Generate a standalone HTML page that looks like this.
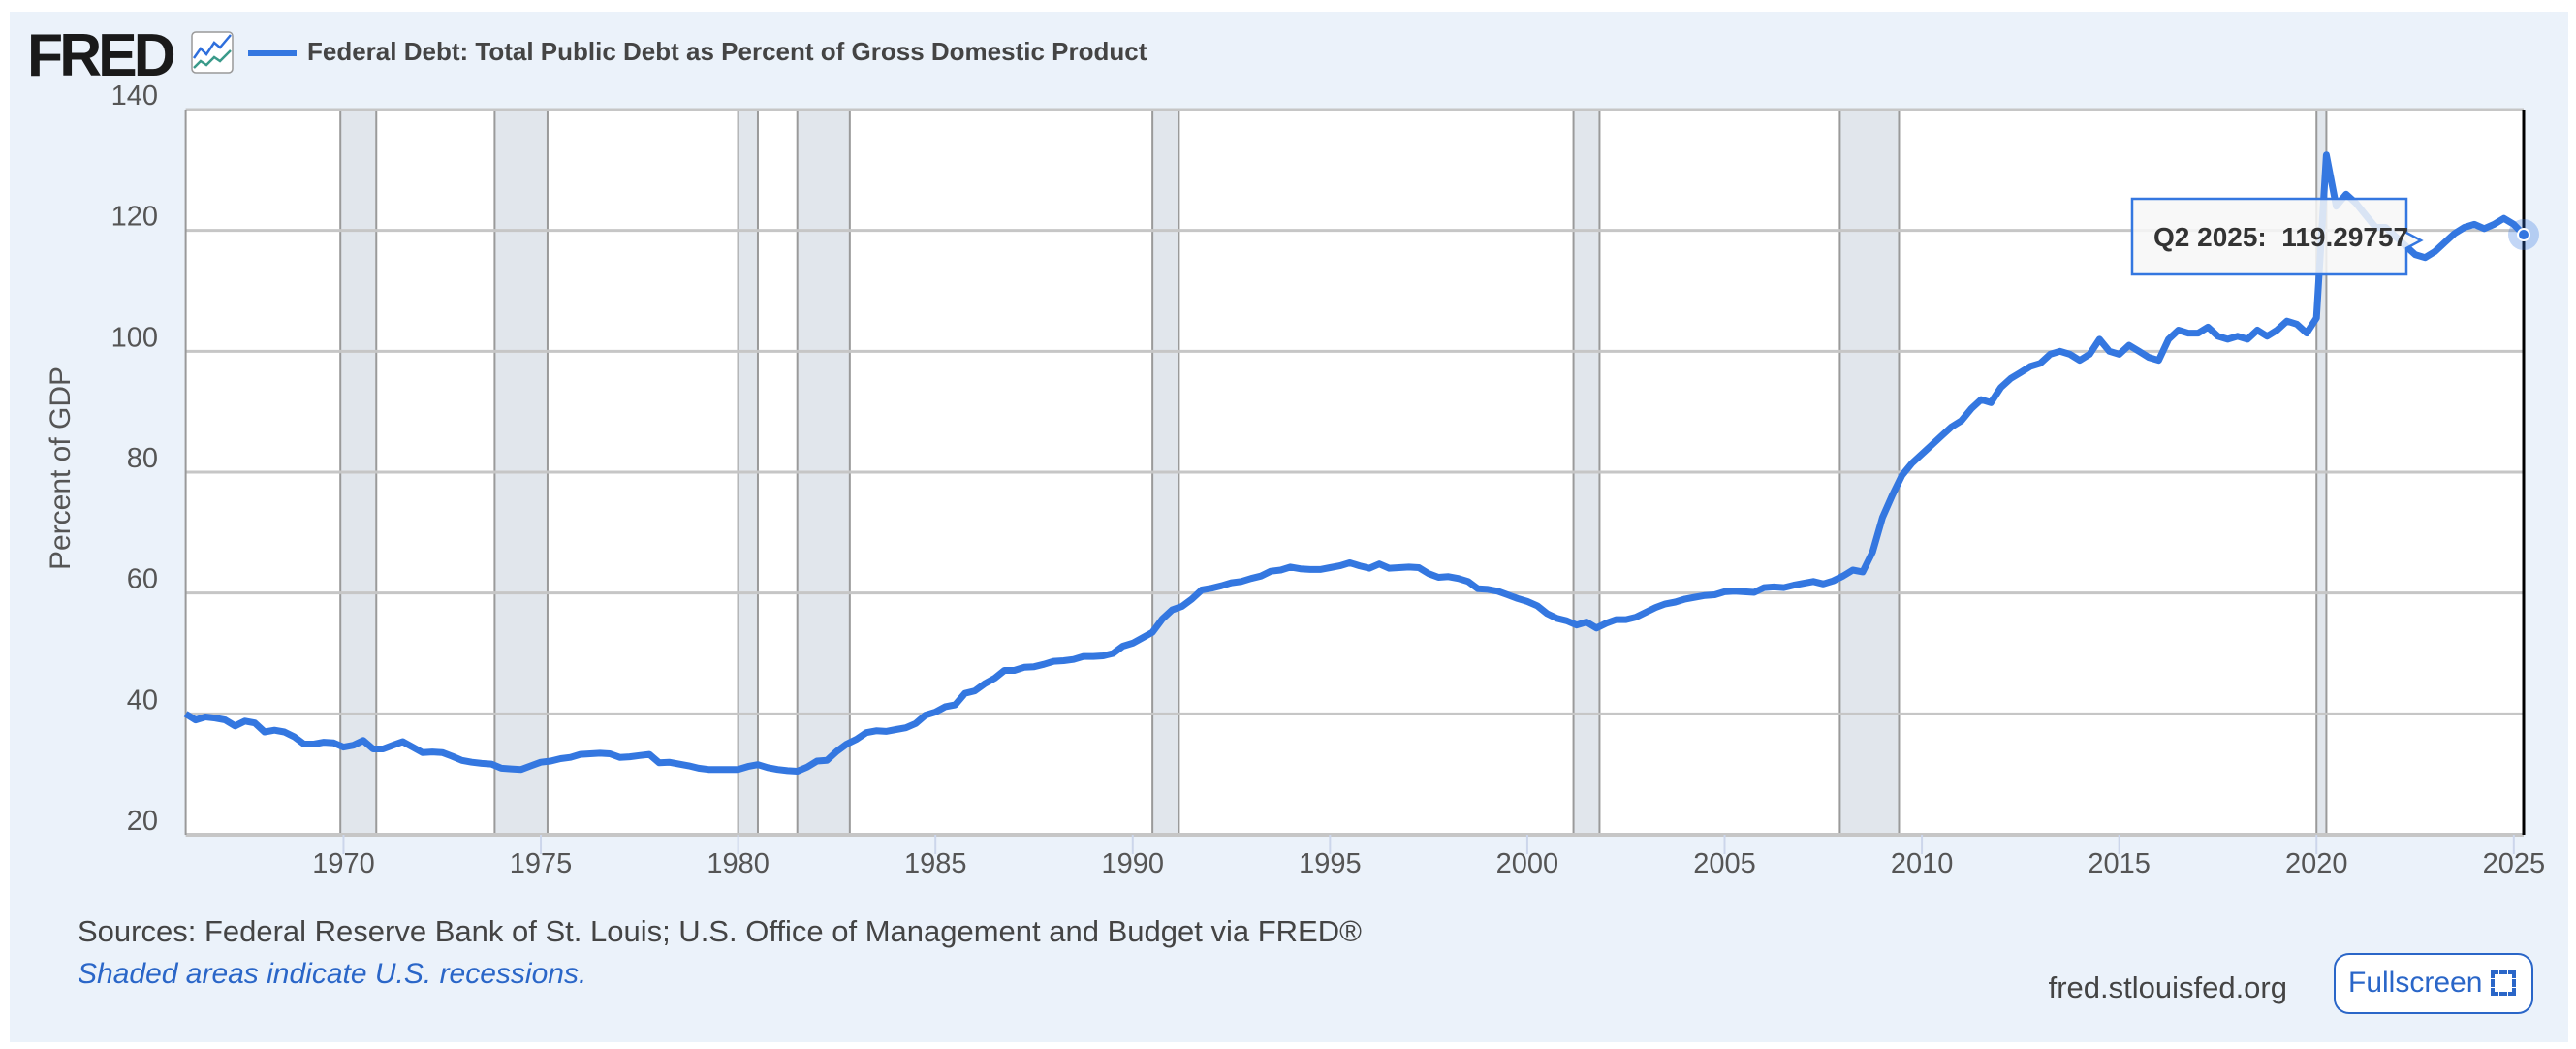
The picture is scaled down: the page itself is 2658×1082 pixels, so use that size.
<!DOCTYPE html>
<html><head><meta charset="utf-8">
<style>
html,body{margin:0;padding:0;background:#fff;width:2658px;height:1082px;overflow:hidden;font-family:"Liberation Sans",sans-serif;}
#panel{position:absolute;left:10px;top:12px;width:2640px;height:1063px;background:#ebf2fa;}
.abs{position:absolute;}
</style></head><body>
<div id="panel"></div>
<div class="abs" style="left:28px;top:22px;font-size:62px;font-weight:bold;color:#1a1a1a;letter-spacing:-4px;font-family:'Liberation Sans',sans-serif;transform:scaleX(0.98);transform-origin:left;">FRED</div>
<svg class="abs" style="left:197px;top:32px" width="44" height="44" viewBox="0 0 44 44">
<rect x="1" y="1" width="42" height="42" rx="4" fill="#fff" stroke="#999" stroke-width="1.5"/>
<polyline points="3,28 10,18 16,24 24,12 30,17 41,4" fill="none" stroke="#2f6fdc" stroke-width="2.5"/>
<polyline points="3,38 10,31 16,35 24,27 30,31 41,20" fill="none" stroke="#3a9a8a" stroke-width="2.5"/>
</svg>
<div class="abs" style="left:256px;top:52px;width:50px;height:6px;background:#3477e0"></div>
<div class="abs" style="left:317px;top:38px;font-size:26px;font-weight:bold;color:#444;">Federal Debt: Total Public Debt as Percent of Gross Domestic Product</div>

<svg class="abs" id="chart" style="left:0;top:0" width="2658" height="1082"></svg>

<div class="abs" style="left:80px;top:943px;font-size:31px;color:#444">Sources: Federal Reserve Bank of St. Louis; U.S. Office of Management and Budget via FRED®</div>
<div class="abs" style="left:80px;top:988px;font-size:30px;color:#2a66c8;font-style:italic">Shaded areas indicate U.S. recessions.</div>
<div class="abs" style="right:298px;top:1001px;font-size:31px;color:#444">fred.stlouisfed.org</div>
<div class="abs" style="left:2408px;top:983px;width:206px;height:63px;border:2.5px solid #2a66c8;border-radius:16px;background:#fff;box-sizing:border-box;color:#2a66c8;font-size:30px;line-height:58px;padding-left:13px;">Fullscreen <span style="display:inline-block;width:26px;height:26px;vertical-align:-4px;border:4px dashed #2a66c8;box-sizing:border-box"></span></div>

<script>
const yTicks=[20,40,60,80,100,120,140];
const xTicks=[1970,1975,1980,1985,1990,1995,2000,2005,2010,2015,2020,2025];
const recStart=[1969.92,1973.83,1980.0,1981.5,1990.5,2001.17,2007.92,2020.0];
const recEnd=[1970.83,1975.17,1980.5,1982.83,1991.17,2001.83,2009.42,2020.25];
const startYear=1966;
const debtPct=[
40,39,39.5,39.3, 39,38,38.8,38.5, 37,37.3,37,36.2, 35,35,35.3,35.2,
34.5,34.8,35.6,34.2, 34.2,34.8,35.4,34.5, 33.6,33.7,33.6,33, 32.3,32,31.8,31.7,
31,30.9,30.8,31.4, 32,32.2,32.6,32.8, 33.3,33.4,33.5,33.4, 32.8,32.9,33.1,33.3,
31.9,32,31.7,31.4, 31,30.8,30.8,30.8, 30.8,31.3,31.6,31.1, 30.8,30.6,30.5,31.2,
32.2,32.3,33.8,35, 35.8,36.9,37.2,37.1, 37.4,37.7,38.4,39.8, 40.3,41.2,41.5,43.4,
43.8,45,45.9,47.2, 47.2,47.7,47.8,48.2, 48.7,48.8,49,49.5, 49.5,49.6,50,51.2,
51.7,52.6,53.5,55.7, 57.2,57.8,59,60.5, 60.8,61.2,61.7,61.9, 62.4,62.8,63.6,63.8,
64.3,64,63.9,63.9, 64.2,64.5,65,64.5, 64.1,64.8,64.1,64.2, 64.3,64.2,63.2,62.6,
62.7,62.4,61.9,60.7, 60.6,60.3,59.7,59.1, 58.6,57.9,56.6,55.8, 55.4,54.7,55.2,54.2,
55,55.6,55.6,56, 56.8,57.6,58.2,58.5, 59,59.3,59.6,59.7, 60.2,60.3,60.2,60.1,
60.9,61,60.9,61.3, 61.6,61.9,61.5,62, 62.8,63.8,63.5,66.8, 72.5,76.2,79.5,81.5,
83,84.5,86,87.5, 88.5,90.5,92,91.5, 94,95.5,96.5,97.5, 98,99.5,100,99.5,
98.5,99.5,102,100, 99.5,101,100,99, 98.5,102,103.5,103, 103,104,102.5,102,
102.5,102,103.5,102.5, 103.5,105,104.5,103, 105.5,132.5,124,126,
124.5,122.5,120.5,120.5, 119,117.5,116,115.5, 116.5,118,119.5,120.5,
121,120.3,121,122, 121,119.29757];
const tooltipLabel="Q2 2025:";
const tooltipValue="119.29757";

const L=191.6,R=2604,T=113,B=861,X0=1966.0,X1=2025.25,Y0=20,Y1=140;
const sx=v=>L+(v-X0)/(X1-X0)*(R-L);
const sy=v=>B-(v-Y0)/(Y1-Y0)*(B-T);
const svg=document.getElementById('chart');
const NS='http://www.w3.org/2000/svg';
function mk(tag,attrs){const e=document.createElementNS(NS,tag);for(const k in attrs)e.setAttribute(k,attrs[k]);svg.appendChild(e);return e;}

let e=mk('rect',{x:L,y:T,width:R-L,height:B-T,fill:'#fff'});



recStart.forEach((s,i)=>{
  const r=mk('rect',{x:sx(s),y:T,width:sx(recEnd[i])-sx(s),height:B-T,fill:'#e1e6ec'});
  
  
  [s,recEnd[i]].forEach(v=>{const l=mk('line',{x1:sx(v),x2:sx(v),y1:T,y2:B,stroke:'#9a9a9a','stroke-width':2});
    
    });
});

yTicks.forEach(v=>{
  const g=mk('line',{x1:L,x2:R,y1:sy(v),y2:sy(v),stroke:'#c6c6c6','stroke-width':v===20?4:3});
  
  
  const t=mk('text',{x:163,y:sy(v)-5,'text-anchor':'end','font-size':29,fill:'#555','font-family':'Liberation Sans, sans-serif'});
  t.textContent=v;
  
  
});
xTicks.forEach(v=>{
  const l=mk('line',{x1:sx(v),x2:sx(v),y1:B,y2:B+20,stroke:'#ccd6eb','stroke-width':2});
  
  
  const t=mk('text',{x:sx(v),y:900,'text-anchor':'middle','font-size':29,fill:'#555','font-family':'Liberation Sans, sans-serif'});
  t.textContent=v;
  
  
});
let ax=mk('line',{x1:L,x2:L,y1:T,y2:B,stroke:'#999','stroke-width':2});


let rb=mk('line',{x1:R,x2:R,y1:T,y2:B,stroke:'#000','stroke-width':3});



const yt=mk('text',{x:0,y:0,'text-anchor':'middle','font-size':30,fill:'#555','font-family':'Liberation Sans, sans-serif',transform:'translate(72,483) rotate(-90)'});
yt.textContent='Percent of GDP';



const pts=debtPct.map((v,i)=>sx(startYear+i/4).toFixed(1)+','+sy(v).toFixed(1)).join(' ');
const pl=mk('polyline',{points:pts,fill:'none',stroke:'#3477e0','stroke-width':7,'stroke-linejoin':'round'});



const li=debtPct.length-1;
const hx=sx(startYear+li/4),hy=sy(debtPct[li]);
const halo=mk('circle',{cx:hx,cy:hy,r:16,fill:'#3477e0','fill-opacity':0.3});


const dot=mk('circle',{cx:hx,cy:hy,r:6,fill:'#3477e0',stroke:'#fff','stroke-width':2});



const tb=mk('path',{d:'M2200,205 H2483 V240 L2498,248 L2483,256 V283 H2200 Z',fill:'#f7f7f7','fill-opacity':0.85,stroke:'#3477e0','stroke-width':2.5});


const tt=mk('text',{x:2222,y:254,'font-size':28,'font-weight':'bold',fill:'#333','font-family':'Liberation Sans, sans-serif'});
tt.textContent=tooltipLabel+'\u00a0\u00a0'+tooltipValue;


</script>
</body></html>
